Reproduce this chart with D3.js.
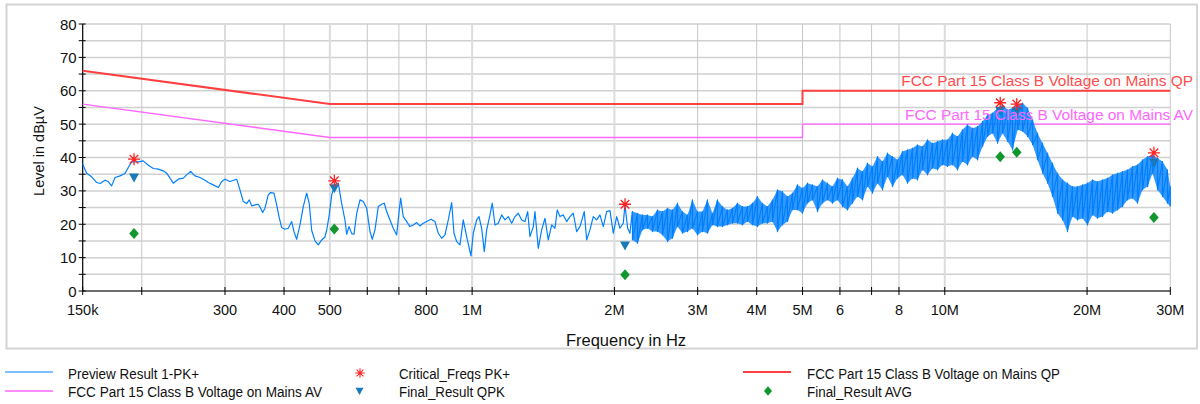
<!DOCTYPE html>
<html>
<head>
<meta charset="utf-8">
<script src="https://cdn.jsdelivr.net/npm/d3@7/dist/d3.min.js"></script>
<style>
  body { margin: 0; background: #fff; }
  svg { font-family: "Liberation Sans", Arial, sans-serif; }
</style>
</head>
<body>
<div id="chart"></div>
<script>
// preview scan, smooth part (frequency in MHz, level in dBuV)
const scanFreq = [0.150, 0.1529, 0.1567, 0.1606, 0.1632, 0.1672, 0.1699, 0.1727, 0.1756, 0.1799,
  0.1843, 0.1873, 0.1904, 0.1967, 0.2015, 0.2065, 0.2116, 0.2168, 0.2221, 0.2258,
  0.2295, 0.2332, 0.2390, 0.2449, 0.2489, 0.2538, 0.2592, 0.2656, 0.2722, 0.2766,
  0.2834, 0.2904, 0.2952, 0.3000, 0.3074, 0.3176, 0.3227, 0.3280, 0.3334, 0.3377,
  0.3417, 0.3472, 0.3528, 0.3558, 0.3605, 0.3645, 0.3704, 0.3748, 0.3809, 0.3859,
  0.3903, 0.3954, 0.4018, 0.4083, 0.4152, 0.4198, 0.4254, 0.4323, 0.4393, 0.4466,
  0.4523, 0.4576, 0.4651, 0.4726, 0.4805, 0.4883, 0.4923, 0.4986, 0.5045, 0.5127,
  0.5210, 0.5297, 0.5383, 0.5427, 0.5488, 0.5561, 0.5624, 0.5698, 0.5791, 0.5885,
  0.5983, 0.6080, 0.6148, 0.6230, 0.6331, 0.6436, 0.6518, 0.6595, 0.6702, 0.6810,
  0.6924, 0.7012, 0.7060, 0.7150, 0.7270, 0.7388, 0.7507, 0.7633, 0.7756, 0.7882,
  0.8014, 0.8183, 0.8344, 0.8480, 0.8621, 0.8761, 0.8903, 0.9052, 0.9154, 0.9275,
  0.9425, 0.9578, 0.9738, 0.9944, 1.0056, 1.0224, 1.0339, 1.0476, 1.0610, 1.0735,
  1.0908, 1.1031, 1.1177, 1.1358, 1.1548, 1.1735, 1.1926, 1.2125, 1.2321, 1.2521,
  1.2730, 1.2936, 1.3107, 1.3255, 1.3470, 1.3582, 1.3802, 1.4033, 1.4260, 1.4491,
  1.4733, 1.4972, 1.5140, 1.5341, 1.5589, 1.5849, 1.6106, 1.6368, 1.6641, 1.6911,
  1.7269, 1.7472, 1.7755, 1.8043, 1.8345, 1.8641, 1.8943, 1.9260, 1.9572, 1.9889,
  2.0221, 2.0548, 2.0881, 2.1055, 2.1333, 2.1574, 2.1817];
const scanLevel = [38.0, 35.3, 34.2, 32.5, 32.2, 33.2, 32.8, 31.5, 34.0, 34.5,
  35.2, 37.0, 38.7, 38.7, 39.0, 37.7, 36.7, 36.5, 36.0, 35.3,
  33.8, 32.3, 33.5, 33.8, 34.8, 35.8, 34.5, 34.0, 33.2, 32.5,
  31.8, 31.0, 32.8, 33.5, 32.8, 33.5, 30.3, 26.8, 26.2, 27.3,
  25.5, 25.8, 26.0, 25.2, 23.5, 24.8, 28.8, 29.5, 29.3, 25.8,
  22.3, 19.0, 18.5, 18.8, 20.8, 17.8, 15.5, 19.8, 25.3, 29.3,
  26.2, 18.2, 15.0, 13.8, 15.3, 16.2, 18.2, 22.8, 28.8, 32.0,
  32.3, 26.2, 21.2, 17.0, 19.3, 17.2, 17.0, 23.2, 27.3, 26.8,
  24.8, 17.8, 15.5, 18.3, 25.3, 26.0, 26.3, 23.8, 21.3, 18.8,
  16.8, 24.3, 27.8, 22.3, 20.8, 19.3, 19.8, 20.5, 19.5, 20.3,
  20.8, 21.5, 20.8, 17.3, 15.8, 16.8, 21.3, 26.5, 17.3, 14.8,
  13.8, 21.3, 16.3, 10.5, 17.3, 21.3, 22.3, 18.8, 11.8, 18.3,
  22.8, 26.3, 19.8, 20.3, 22.8, 21.3, 22.3, 20.3, 22.3, 23.3,
  21.3, 20.8, 23.8, 16.3, 19.3, 23.8, 12.8, 18.3, 21.8, 15.3,
  19.8, 18.8, 24.3, 22.3, 22.8, 20.8, 22.3, 23.3, 17.8, 19.3,
  23.8, 15.3, 18.3, 22.3, 21.3, 22.8, 19.3, 23.8, 24.1, 17.3,
  22.3, 18.8, 20.3, 25.8, 18.8, 17.3, 23.8];

// preview scan, dense part: peak-to-trough spread per frequency bin
const bandFreq = [2.184, 2.238, 2.293, 2.349, 2.407, 2.467, 2.528, 2.590, 2.654, 2.719,
  2.786, 2.855, 2.925, 2.997, 3.071, 3.147, 3.225, 3.304, 3.386, 3.469,
  3.555, 3.642, 3.732, 3.824, 3.918, 4.015, 4.114, 4.215, 4.319, 4.426,
  4.535, 4.647, 4.761, 4.879, 4.999, 5.122, 5.249, 5.378, 5.511, 5.647,
  5.786, 5.929, 6.075, 6.225, 6.378, 6.536, 6.697, 6.862, 7.031, 7.205,
  7.382, 7.564, 7.751, 7.942, 8.138, 8.338, 8.544, 8.755, 8.970, 9.192,
  9.418, 9.651, 9.889, 10.13, 10.38, 10.64, 10.90, 11.17, 11.45, 11.73,
  12.02, 12.32, 12.62, 12.93, 13.25, 13.58, 13.91, 14.26, 14.61, 14.97,
  15.34, 15.71, 16.10, 16.50, 16.90, 17.32, 17.75, 18.18, 18.63, 19.09,
  19.56, 20.04, 20.54, 21.04, 21.56, 22.09, 22.64, 23.20, 23.77, 24.35,
  24.95, 25.57, 26.20, 26.85, 27.51, 28.19, 28.88, 29.59, 30.0];
const bandHi = [23.8, 23.3, 22.8, 22.8, 22.3, 24.3, 23.8, 24.8, 24.3, 26.3,
  23.8, 22.8, 27.3, 23.8, 23.8, 27.3, 23.3, 27.3, 25.3, 24.3,
  24.8, 26.3, 25.3, 25.3, 26.3, 28.3, 26.3, 25.3, 27.3, 30.3,
  29.8, 28.3, 29.3, 31.8, 30.8, 32.3, 31.8, 31.3, 33.3, 32.3,
  31.3, 33.8, 33.3, 31.3, 33.8, 36.8, 35.8, 38.3, 37.3, 40.3,
  38.8, 41.3, 40.3, 39.3, 41.8, 42.3, 42.8, 43.8, 43.3, 45.3,
  44.3, 44.8, 45.3, 45.3, 47.3, 46.3, 48.3, 49.8, 48.8, 49.3,
  50.8, 52.8, 53.3, 54.8, 55.8, 54.3, 54.8, 55.8, 56.3, 54.8,
  51.3, 47.3, 44.3, 41.3, 38.3, 35.3, 33.3, 32.3, 31.3, 31.3,
  31.8, 32.3, 33.3, 32.8, 33.3, 33.8, 34.8, 35.3, 35.8, 36.3,
  37.3, 37.8, 39.3, 40.3, 40.8, 39.8, 38.8, 36.3, 31.3];
const bandLo = [15.3, 14.3, 18.3, 18.8, 17.8, 17.8, 16.8, 14.8, 15.8, 19.3,
  17.3, 17.8, 18.8, 16.8, 17.8, 17.3, 19.8, 19.3, 19.3, 19.8,
  20.3, 20.3, 19.8, 20.8, 19.8, 19.3, 20.3, 20.3, 20.8, 17.8,
  19.8, 20.8, 24.3, 24.3, 23.3, 26.3, 27.3, 23.8, 26.3, 27.3,
  26.3, 27.3, 25.3, 24.3, 26.3, 28.3, 27.3, 31.3, 29.3, 32.3,
  30.3, 34.3, 31.3, 33.8, 34.8, 32.3, 33.8, 33.3, 36.3, 34.8,
  36.8, 36.3, 37.8, 37.3, 37.8, 36.3, 38.8, 37.8, 40.3, 39.3,
  43.3, 46.3, 47.3, 44.3, 47.3, 44.8, 42.3, 48.3, 47.8, 46.3,
  43.8, 39.3, 35.3, 32.3, 28.3, 23.3, 21.3, 17.8, 22.3, 21.3,
  21.8, 19.8, 22.8, 21.8, 22.3, 23.8, 23.3, 24.3, 25.3, 27.3,
  27.8, 26.3, 30.3, 31.3, 35.3, 30.3, 28.3, 26.3, 25.3];

// final measurement
const critFreq = [0.1926, 0.511, 2.106, 13.1, 14.2, 27.7];
const critLevel = [39.5, 33.0, 26.0, 56.4, 56.0, 41.4];
const qpkLevel = [34.0, 30.8, 13.6, 54.0, 53.8, 38.4];
const avgLevel = [17.2, 18.6, 4.9, 40.2, 41.6, 22.0];

// FCC Part 15 class B limits
const limitFreq = [0.15, 0.5, 5, 5, 30];
const qpLimit = [66, 56, 56, 60, 60];
const avLimit = [56, 46, 46, 50, 50];

const yTicks = [0, 10, 20, 30, 40, 50, 60, 70, 80];
const yMinor = [5, 15, 25, 35, 45, 55, 65, 75];
const xTickVals = [0.15, 0.2, 0.3, 0.4, 0.5, 0.6, 0.7, 0.8, 1, 2, 3, 4, 5, 6, 7, 8, 10, 20, 30];
const xTickLabels = ["150k", "", "300", "400", "500", "", "", "800", "1M", "2M", "3M", "4M", "5M", "6", "", "8", "10M", "20M", "30M"];
const xStrongGrid = [0.3, 0.5, 1, 2, 10];

const W = 1200, H = 404;
const pL = 82.7, pR = 1170.3, pT = 24, pB = 291;

const svg = d3.select("#chart").append("svg")
  .attr("width", W).attr("height", H);

const x = d3.scaleLog().domain([0.15, 30]).range([pL, pR]);
const y = d3.scaleLinear().domain([0, 80]).range([pB, pT]);

// outer frame
svg.append("rect")
  .attr("x", 6.5).attr("y", 4.5).attr("width", 1190.5).attr("height", 344)
  .attr("fill", "none").attr("stroke", "#d4d4d4").attr("stroke-width", 2);

// grid
const grid = svg.append("g");
grid.selectAll(".hg").data(yTicks.concat(yMinor)).enter().append("line")
  .attr("x1", pL).attr("x2", pR)
  .attr("y1", d => y(d)).attr("y2", d => y(d))
  .attr("stroke", "#d0d0d0").attr("stroke-width", 1.5);
grid.selectAll(".vg").data(xTickVals.slice(1)).enter().append("line")
  .attr("x1", d => x(d)).attr("x2", d => x(d))
  .attr("y1", pT).attr("y2", pB)
  .attr("stroke", d => xStrongGrid.includes(d) ? "#dcdcdc" : "#c8c8c8")
  .attr("stroke-width", d => xStrongGrid.includes(d) ? 2 : 1);

// axes
svg.append("line").attr("x1", pL).attr("x2", pL).attr("y1", pT).attr("y2", pB)
  .attr("stroke", "#000").attr("stroke-width", 1.2);
svg.append("line").attr("x1", pL).attr("x2", pR).attr("y1", pB).attr("y2", pB)
  .attr("stroke", "#000").attr("stroke-width", 1.2);
svg.selectAll(".yt").data(yTicks.concat(yMinor)).enter().append("line")
  .attr("x1", pL - 4).attr("x2", pL + 3)
  .attr("y1", d => y(d)).attr("y2", d => y(d))
  .attr("stroke", "#000");
svg.selectAll(".xt").data(xTickVals).enter().append("line")
  .attr("x1", d => x(d)).attr("x2", d => x(d))
  .attr("y1", pB - 4).attr("y2", pB + 4)
  .attr("stroke", "#000");

svg.selectAll(".yl").data(yTicks).enter().append("text")
  .attr("x", pL - 6).attr("y", d => y(d) + 5.5)
  .attr("text-anchor", "end").attr("font-size", 15).attr("fill", "#111")
  .text(d => d);
svg.selectAll(".xl").data(xTickVals).enter().append("text")
  .attr("x", d => x(d)).attr("y", pB + 24)
  .attr("text-anchor", "middle").attr("font-size", 14.5).attr("fill", "#111")
  .text((d, i) => xTickLabels[i]);

svg.append("text")
  .attr("transform", "translate(44,151) rotate(-90)")
  .attr("text-anchor", "middle").attr("font-size", 14.5).attr("fill", "#111")
  .text("Level in dBµV");
svg.append("text")
  .attr("x", 626).attr("y", 346)
  .attr("text-anchor", "middle").attr("font-size", 16.5).attr("fill", "#111")
  .text("Frequency in Hz");

// limit lines
const limLine = d3.line().x(d => x(d[0])).y(d => y(d[1]));
svg.append("path")
  .attr("d", limLine(limitFreq.map((f, i) => [f, avLimit[i]])))
  .attr("fill", "none").attr("stroke", "#ff66ff").attr("stroke-width", 1.3);
svg.append("path")
  .attr("d", limLine(limitFreq.map((f, i) => [f, qpLimit[i]])))
  .attr("fill", "none").attr("stroke", "#ff4040").attr("stroke-width", 2);

// preview scan
const blue = "#0080ff";
svg.append("path")
  .attr("d", d3.area().x(d => x(d[0])).y0(d => y(d[2])).y1(d => y(d[1]))
    (bandFreq.map((f, i) => [f, bandHi[i], bandLo[i]])))
  .attr("fill", blue).attr("fill-opacity", 0.8);
const zig = [];
bandFreq.forEach((f, i) => { zig.push([f, bandHi[i]]); zig.push([f, bandLo[i]]); });
svg.append("path")
  .attr("d", limLine(scanFreq.map((f, i) => [f, scanLevel[i]]).concat(zig)))
  .attr("fill", "none").attr("stroke", blue).attr("stroke-width", 1.2)
  .attr("stroke-linejoin", "round");

// markers
const tri = "M-5,-4L5,-4L0,5Z";
const dia = "M0,-5.5L4.8,0L0,5.5L-4.8,0Z";
const star = "M0,-6V6M-6,0H6M-4.3,-4.3L4.3,4.3M-4.3,4.3L4.3,-4.3";
svg.selectAll(".qpk").data(critFreq).enter().append("path")
  .attr("d", tri).attr("fill", "#1a7ab8")
  .attr("transform", (f, i) => `translate(${x(f)},${y(qpkLevel[i])})`);
svg.selectAll(".crit").data(critFreq).enter().append("path")
  .attr("d", star).attr("fill", "none").attr("stroke", "#ff2020").attr("stroke-width", 1.3)
  .attr("transform", (f, i) => `translate(${x(f)},${y(critLevel[i])})`);
svg.selectAll(".avg").data(critFreq).enter().append("path")
  .attr("d", dia).attr("fill", "#12962e")
  .attr("transform", (f, i) => `translate(${x(f)},${y(avgLevel[i])})`);

// limit labels
svg.append("text").attr("x", 1193).attr("y", y(60) - 4.5)
  .attr("text-anchor", "end").attr("font-size", 15.4).attr("fill", "#ff4d4d")
  .text("FCC Part 15 Class B Voltage on Mains QP");
svg.append("text").attr("x", 1193).attr("y", y(50) - 4.5)
  .attr("text-anchor", "end").attr("font-size", 15.4).attr("fill", "#ff66ff")
  .text("FCC Part 15 Class B Voltage on Mains AV");

// legend
const lg = svg.append("g").attr("font-size", 14).attr("fill", "#111");
const r1 = 372, r2 = 391;
function legendText(xp, yp, str, len) {
  lg.append("text").attr("x", xp).attr("y", yp)
    .attr("textLength", len).attr("lengthAdjust", "spacingAndGlyphs")
    .text(str);
}
lg.append("line").attr("x1", 5).attr("x2", 53).attr("y1", r1).attr("y2", r1)
  .attr("stroke", blue).attr("stroke-width", 1.2);
legendText(68, r1 + 7, "Preview Result 1-PK+", 131);
lg.append("line").attr("x1", 5).attr("x2", 53).attr("y1", r2).attr("y2", r2)
  .attr("stroke", "#ff66ff").attr("stroke-width", 1.3);
legendText(68, r2 + 6, "FCC Part 15 Class B Voltage on Mains AV", 254);
lg.append("path").attr("d", star).attr("fill", "none").attr("stroke", "#ff2020").attr("stroke-width", 1.3)
  .attr("transform", `translate(360,${r1 + 1}) scale(0.8)`);
legendText(399, r1 + 7, "Critical_Freqs PK+", 111);
lg.append("path").attr("d", tri).attr("fill", "#1a7ab8")
  .attr("transform", `translate(359.5,${r2}) scale(0.8)`);
legendText(399, r2 + 6, "Final_Result QPK", 106);
lg.append("line").attr("x1", 743).attr("x2", 791).attr("y1", r1).attr("y2", r1)
  .attr("stroke", "#ff4040").attr("stroke-width", 2);
legendText(807, r1 + 7, "FCC Part 15 Class B Voltage on Mains QP", 253);
lg.append("path").attr("d", dia).attr("fill", "#12962e")
  .attr("transform", `translate(768,${r2}) scale(0.85)`);
legendText(807, r2 + 6, "Final_Result AVG", 105);
</script>
</body>
</html>
